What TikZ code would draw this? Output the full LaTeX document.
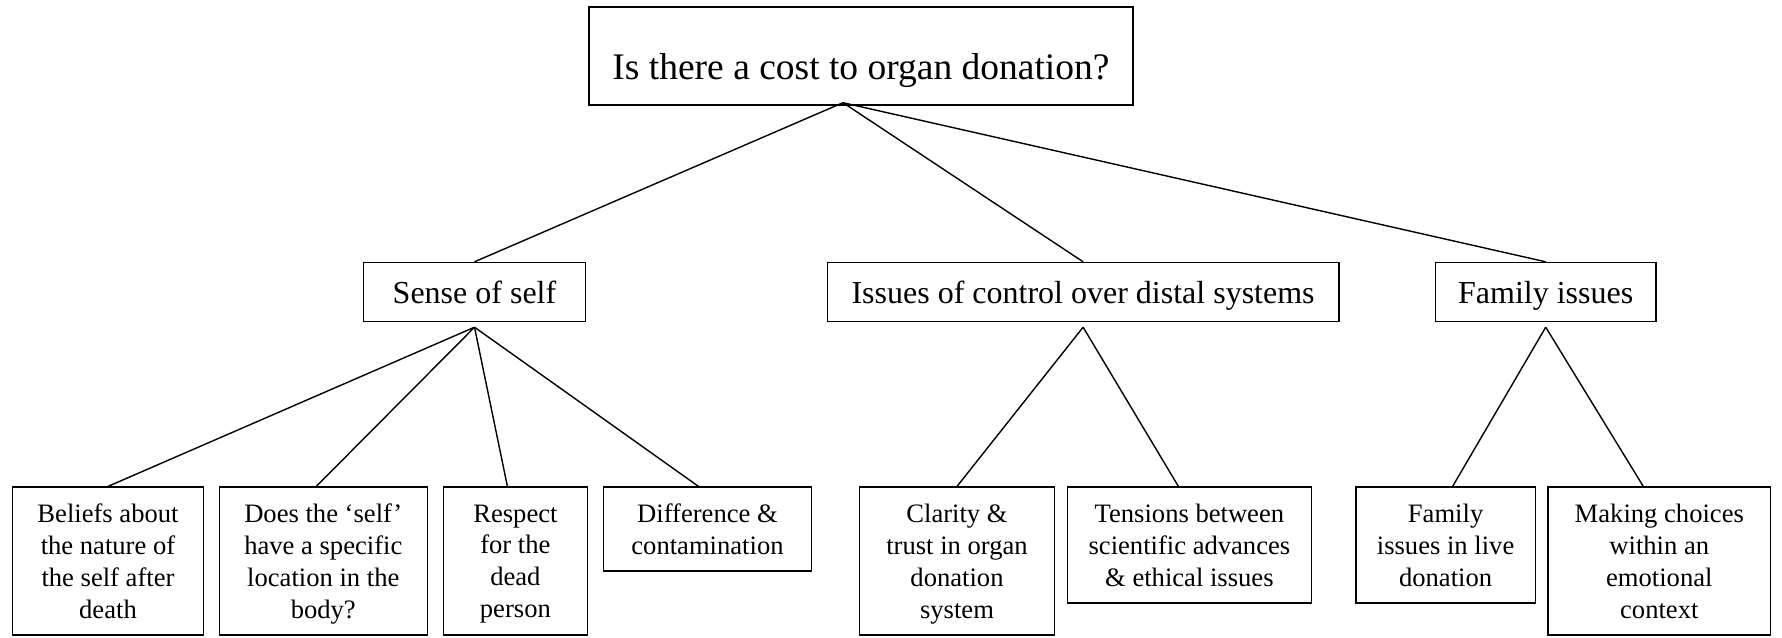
\documentclass[tikz,border=0pt]{standalone}
\usepackage{fontspec}
\setmainfont{Liberation Serif}

\tikzset{
  rootbox/.style={draw, line width=1.4pt, inner sep=0pt, minimum width=544pt,
    text height=72pt, text depth=26pt, font=\fontsize{37.5}{45}\selectfont},
  themebox/.style={draw, line width=1.4pt, inner sep=0pt,
    text height=41pt, text depth=18pt, font=\fontsize{32}{38}\selectfont},
  leafbox/.style={draw, line width=1.4pt, inner sep=0pt, anchor=north, align=center,
    text depth=0pt, font=\fontsize{26.6}{31.8}\selectfont},
  link/.style={line width=1.4pt}
}

\begin{document}
\begin{tikzpicture}[x=1pt, y=-1pt]
      \useasboundingbox (0,0) rectangle (1782,637);
      % question
      \draw (861,56) node[rootbox](root){Is there a cost to organ donation?};
      \coordinate (rootfoot) at ([xshift=-18pt, yshift=3pt]root.south);
      % themes
      \draw (474.5,292) node[themebox, minimum width=221.6pt](self){Sense of self};
      \draw (1083.1,292) node[themebox, minimum width=511.4pt](control){Issues of control over distal systems};
      \draw (1545.7,292) node[themebox, minimum width=220.5pt](family){Family issues};
      \coordinate (selffoot) at ([yshift=-5pt]self.south);
      \coordinate (controlfoot) at ([yshift=-5pt]control.south);
      \coordinate (familyfoot) at ([yshift=-5pt]family.south);
      % sense of self
      \draw (108,486.4) node[leafbox, minimum width=191pt, minimum height=148pt](beliefs){Beliefs about\\the nature of\\the self after\\death};
      \draw (323.3,486.4) node[leafbox, minimum width=208pt, minimum height=148pt](location){Does the ‘self’\\have a specific\\location in the\\body?};
      \draw (515.4,486.4) node[leafbox, minimum width=144.4pt, minimum height=148pt](respect){Respect\\for the\\dead\\person};
      \draw (707.5,486.4) node[leafbox, minimum width=208pt, minimum height=84pt](difference){Difference \&\\contamination};
      % control
      \draw (957,486.4) node[leafbox, minimum width=195.5pt, minimum height=148pt](clarity){Clarity \&\\trust in organ\\donation\\system};
      \draw (1189.4,486.4) node[leafbox, minimum width=244.3pt, minimum height=116pt](tensions){Tensions between\\scientific advances\\\& ethical issues};
      % family
      \draw (1445.6,486.4) node[leafbox, minimum width=179.6pt, minimum height=116pt](livedon){Family\\issues in live\\donation};
      \draw (1659.3,486.4) node[leafbox, minimum width=222.8pt, minimum height=148pt](choices){Making choices\\within an\\emotional\\context};
      % links
      \draw[link] (rootfoot) -- (self.north);
      \draw[link] (rootfoot) -- (control.north);
      \draw[link] (rootfoot) -- (family.north);
      \draw[link] (selffoot) -- (beliefs.north);
      \draw[link] (selffoot) -- ([xshift=-7pt]location.north);
      \draw[link] (selffoot) -- ([xshift=-8pt]respect.north);
      \draw[link] (selffoot) -- ([xshift=-9pt]difference.north);
      \draw[link] (controlfoot) -- (clarity.north);
      \draw[link] (controlfoot) -- ([xshift=-11pt]tensions.north);
      \draw[link] (familyfoot) -- ([xshift=7pt]livedon.north);
      \draw[link] (familyfoot) -- ([xshift=-16pt]choices.north);
    \end{tikzpicture}
\end{document}
